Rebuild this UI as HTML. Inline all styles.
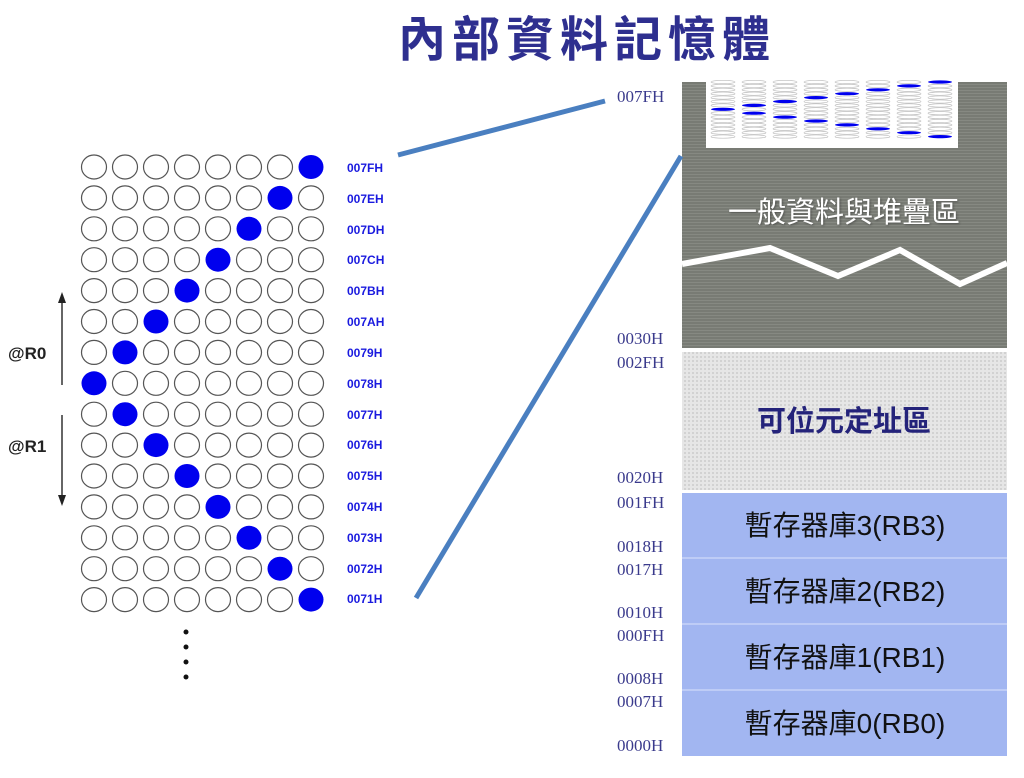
<!DOCTYPE html>
<html><head><meta charset="utf-8"><style>
html,body{margin:0;padding:0;background:#fff;}
svg{display:block;}
</style></head><body>
<svg id="s" width="1024" height="778" xmlns="http://www.w3.org/2000/svg">
<defs>
<pattern id="hl" width="6" height="3" patternUnits="userSpaceOnUse"><rect width="6" height="3" fill="#787b74"/><rect width="6" height="1" fill="#868982"/></pattern>
<pattern id="bt" width="4" height="4" patternUnits="userSpaceOnUse"><rect width="4" height="4" fill="#e6e6e6"/><rect width="2" height="2" fill="#d2d2d2"/></pattern>
<filter id="sh"><feDropShadow dx="1" dy="1" stdDeviation="1" flood-color="#333" flood-opacity="0.6"/></filter>
</defs>
<text x="587" y="56" text-anchor="middle" font-family="'Noto Sans CJK TC','WenQuanYi Zen Hei',sans-serif" font-weight="bold" font-size="48" fill="#2e2f8f" letter-spacing="6">內部資料記憶體</text>

<rect x="682" y="82" width="325" height="266" fill="url(#hl)"/>
<polyline points="682,264 770,248 838,276 900,250 960,284 1007,263" fill="none" stroke="#fff" stroke-width="6"/>
<text x="844" y="222" text-anchor="middle" font-family="'Noto Sans CJK TC',sans-serif" font-size="29" fill="#fff" filter="url(#sh)">一般資料與堆疊區</text>
<rect x="682" y="352" width="325" height="138" fill="url(#bt)"/>
<text x="844" y="431" text-anchor="middle" font-family="'Noto Sans CJK TC',sans-serif" font-weight="bold" font-size="29" fill="#24237a">可位元定址區</text>
<rect x="682" y="493" width="325" height="263" fill="#a2b6f1"/>
<line x1="682" y1="558" x2="1007" y2="558" stroke="#c8d4f8" stroke-width="1.5"/>
<line x1="682" y1="624" x2="1007" y2="624" stroke="#c8d4f8" stroke-width="1.5"/>
<line x1="682" y1="690" x2="1007" y2="690" stroke="#c8d4f8" stroke-width="1.5"/>
<g font-family="'Liberation Sans','Noto Sans CJK TC',sans-serif" font-size="28" fill="#111" text-anchor="middle">
<text x="845" y="535">暫存器庫3(RB3)</text>
<text x="845" y="601">暫存器庫2(RB2)</text>
<text x="845" y="667">暫存器庫1(RB1)</text>
<text x="845" y="733">暫存器庫0(RB0)</text>
</g>
<g font-family="'Liberation Serif',serif" font-size="17" fill="#3a3a8c">
<text x="617" y="102">007FH</text>
<text x="617" y="344">0030H</text>
<text x="617" y="368">002FH</text>
<text x="617" y="483">0020H</text>
<text x="617" y="508">001FH</text>
<text x="617" y="552">0018H</text>
<text x="617" y="575">0017H</text>
<text x="617" y="618">0010H</text>
<text x="617" y="641">000FH</text>
<text x="617" y="684">0008H</text>
<text x="617" y="707">0007H</text>
<text x="617" y="751">0000H</text>
</g>
<rect x="706" y="78" width="252" height="70" fill="#fff"/>
<g id="mini"></g>

<line x1="398" y1="155" x2="605" y2="101" stroke="#4a7fc0" stroke-width="5"/>
<line x1="416" y1="598" x2="681" y2="156" stroke="#4a7fc0" stroke-width="5"/>

<g id="grid"></g>
<g font-family="'Liberation Sans',sans-serif" font-weight="bold" font-size="12" fill="#1a1adf">
<text x="347" y="172">007FH</text><text x="347" y="203">007EH</text><text x="347" y="234">007DH</text>
<text x="347" y="264">007CH</text><text x="347" y="295">007BH</text><text x="347" y="326">007AH</text>
<text x="347" y="357">0079H</text><text x="347" y="388">0078H</text><text x="347" y="419">0077H</text>
<text x="347" y="449">0076H</text><text x="347" y="480">0075H</text><text x="347" y="511">0074H</text>
<text x="347" y="542">0073H</text><text x="347" y="573">0072H</text><text x="347" y="603">0071H</text>
</g>
<g font-family="'Liberation Sans',sans-serif" font-weight="bold" font-size="17" fill="#222">
<text x="8" y="359">@R0</text><text x="8" y="452">@R1</text>
</g>
<line x1="62" y1="385" x2="62" y2="300" stroke="#333" stroke-width="1.5"/>
<polygon points="62,292 58,303 66,303" fill="#222"/>
<line x1="62" y1="415" x2="62" y2="498" stroke="#333" stroke-width="1.5"/>
<polygon points="62,506 58,495 66,495" fill="#222"/>
<g fill="#111"><circle cx="186" cy="632" r="2.5"/><circle cx="186" cy="647" r="2.5"/><circle cx="186" cy="662" r="2.5"/><circle cx="186" cy="677" r="2.5"/></g>
</svg>
<script>
var NS="http://www.w3.org/2000/svg",g=document.getElementById("grid"),m=document.getElementById("mini");
for(var r=0;r<15;r++){var fc=(r<=7)?7-r:r-7;
for(var c=0;c<8;c++){var e=document.createElementNS(NS,"ellipse");e.setAttribute("cx",94+c*31);e.setAttribute("cy",167+r*30.9);e.setAttribute("rx",12.5);e.setAttribute("ry",12);
if(c==fc){e.setAttribute("fill","#0000ee");}else{e.setAttribute("fill","#fff");e.setAttribute("stroke","#555");e.setAttribute("stroke-width","1.2");}g.appendChild(e);}}
for(var c=0;c<8;c++)for(var r=0;r<15;r++){var e=document.createElementNS(NS,"ellipse");e.setAttribute("cx",723+c*31);e.setAttribute("cy",82+r*3.9);e.setAttribute("rx",12);e.setAttribute("ry",1.6);
var on=(r==7-c)||(r==7+c);if(on){e.setAttribute("fill","#0000ee");}else{e.setAttribute("fill","none");e.setAttribute("stroke","#bbb");e.setAttribute("stroke-width","0.6");}m.appendChild(e);}
</script>
</body></html>
